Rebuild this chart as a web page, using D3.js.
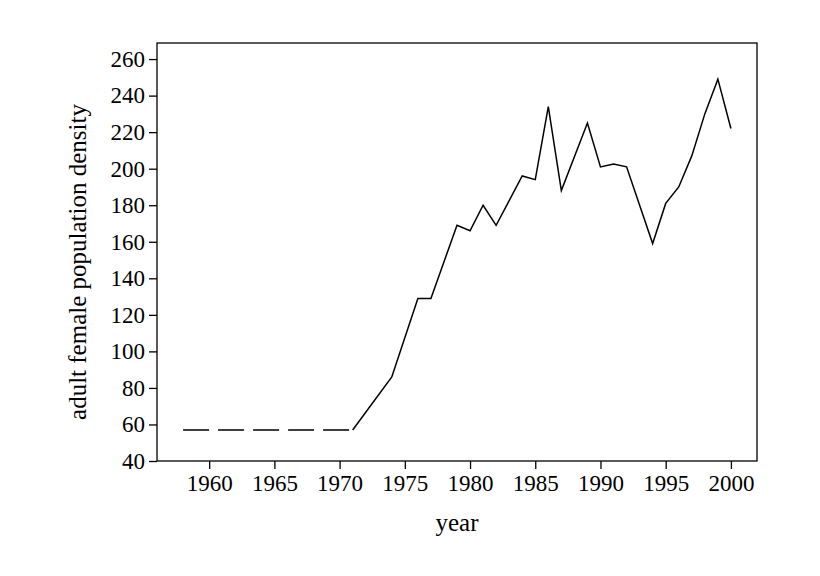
<!DOCTYPE html>
<html><head><meta charset="utf-8">
<script src="https://cdn.jsdelivr.net/npm/d3@7"></script>
<style>body{margin:0;background:#fff}text{font-family:"Liberation Serif",serif}</style>
</head><body><svg id="c" width="820" height="576"></svg>
<script>
// dashed early part (assumed constant) and observed series
const dashYears = [1958, 1971];
const dashValues = [57, 57];
const years = [1971, 1974, 1976, 1977, 1979, 1980, 1981, 1982, 1984, 1985, 1986, 1987, 1989, 1990, 1991, 1992, 1994, 1995, 1996, 1997, 1998, 1999, 2000];
const values = [57, 86, 129, 129, 169, 166, 180, 169, 196, 194, 234, 188, 225, 201, 202.5, 201, 159, 181, 190, 207, 230, 249, 222];
const xTicks = [1960, 1965, 1970, 1975, 1980, 1985, 1990, 1995, 2000];
const yTicks = [40, 60, 80, 100, 120, 140, 160, 180, 200, 220, 240, 260];

const margin = {left: 157, top: 43, right: 63, bottom: 115};
const width = 820 - margin.left - margin.right, height = 576 - margin.top - margin.bottom;
const svg = d3.select('#c');
const g = svg.append('g').attr('transform', 'translate(' + margin.left + ',' + margin.top + ')');

const x = d3.scaleLinear().domain([1956, 2002]).range([0, width]);
const y = d3.scaleLinear().domain([40, 268.8]).range([height, 0]);

g.append('rect').attr('width', width).attr('height', height).attr('fill', 'none').attr('stroke', '#000').attr('stroke-width', 1.3);

const xa = g.append('g').attr('transform', 'translate(0,' + height + ')')
    .call(d3.axisBottom(x).tickValues(xTicks).tickFormat(d3.format('d')).tickSize(8).tickPadding(6));
const ya = g.append('g').call(d3.axisLeft(y).tickValues(yTicks).tickSize(8).tickPadding(4));
[xa, ya].forEach(a => {
    a.select('.domain').remove();
    a.selectAll('line').attr('stroke-width', 1.3);
    a.selectAll('text').attr('font-size', 23).attr('fill', '#000').style('font-family', 'Liberation Serif');
});

const line = d3.line().x(d => x(d[0])).y(d => y(d[1]));
g.append('path').datum(d3.zip(dashYears, dashValues)).attr('d', line)
    .attr('fill', 'none').attr('stroke', '#000').attr('stroke-width', 1.5).attr('stroke-dasharray', '26,9');
g.append('path').datum(d3.zip(years, values)).attr('d', line)
    .attr('fill', 'none').attr('stroke', '#000').attr('stroke-width', 1.5);

svg.append('text').attr('x', margin.left + width / 2).attr('y', 531).attr('text-anchor', 'middle')
    .attr('font-size', 25).text('year');
svg.append('text').attr('transform', 'translate(86,' + (margin.top + height / 2 + 10) + ') rotate(-90)')
    .attr('text-anchor', 'middle').attr('font-size', 25).text('adult female population density');
</script></body></html>
